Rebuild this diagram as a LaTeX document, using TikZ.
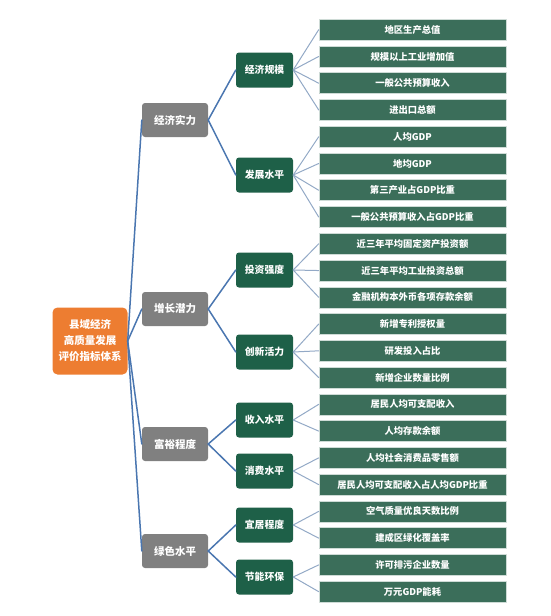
\documentclass[tikz,border=0pt]{standalone}
\usepackage{fontspec}
\setmainfont{Noto Sans CJK SC}
\definecolor{rootorange}{HTML}{ED7D31}
\definecolor{catgray}{HTML}{808080}
\definecolor{subgreen}{HTML}{1E6048}
\definecolor{leafgreen}{HTML}{3B6E5A}
\definecolor{trunkblue}{HTML}{4A76B0}
\definecolor{twigblue}{HTML}{93A9C6}
\begin{document}
\begin{tikzpicture}[x=1pt,y=-1pt,line join=round,line cap=round,
  rootbox/.style={fill=rootorange,text=white,rounded corners=5pt,minimum width=75pt,minimum height=67pt,align=center,font=\fontsize{10.5}{16}\selectfont\bfseries},
  catbox/.style={fill=catgray,text=white,rounded corners=3pt,minimum width=66pt,minimum height=34pt,font=\fontsize{10.5}{12}\selectfont\bfseries},
  subbox/.style={fill=subgreen,text=white,rounded corners=3pt,minimum width=57pt,minimum height=35pt,font=\fontsize{9.8}{12}\selectfont\bfseries},
  leafbox/.style={fill=leafgreen,draw=white!75!leafgreen,line width=0.6pt,text=white,minimum width=187pt,minimum height=21pt,inner sep=1pt,font=\fontsize{9.3}{11}\selectfont\bfseries},
  trunk/.style={draw=trunkblue,line width=1.5pt},
  twig/.style={draw=twigblue,line width=1pt}]
\useasboundingbox (0,0) rectangle (551,616);
\node[rootbox] (R) at (90,341) {县域经济\\高质量发展\\评价指标体系};
% first level
\foreach \y/\t/\n in {120/经济实力/A,309/增长潜力/B,444/富裕程度/C,551/绿色水平/D}
\node[catbox] (\n) at (175,\y) {\t};
% second level
\foreach \y/\t/\n in {70/经济规模/A1,175/发展水平/A2,270/投资强度/B1,352/创新活力/B2,420/收入水平/C1,471/消费水平/C2,525/宜居程度/D1,577/节能环保/D2}
\node[subbox] (\n) at (264.5,\y) {\t};
% indicators
\foreach \i/\t in {1/地区生产总值,2/规模以上工业增加值,3/一般公共预算收入,4/进出口总额,5/人均GDP,6/地均GDP,7/第三产业占GDP比重,8/一般公共预算收入占GDP比重,9/近三年平均固定资产投资额,10/近三年平均工业投资总额,11/金融机构本外币各项存款余额,12/新增专利授权量,13/研发投入占比,14/新增企业数量比例,15/居民人均可支配收入,16/人均存款余额,17/人均社会消费品零售额,18/居民人均可支配收入占人均GDP比重,19/空气质量优良天数比例,20/建成区绿化覆盖率,21/许可排污企业数量,22/万元GDP能耗}
\node[leafbox] (L\i) at (412.5,{29.7+(\i-1)*26.76}) {\t};
\foreach \n in {A,B,C,D}
\draw[trunk] (R.east) -- (\n.west);
\foreach \p/\c in {A/A1,A/A2,B/B1,B/B2,C/C1,C/C2,D/D1,D/D2}
\draw[trunk] (\p.east) -- (\c.west);
\foreach \p/\c in {A1/1,A1/2,A1/3,A1/4,A2/5,A2/6,A2/7,A2/8,B1/9,B1/10,B1/11,B2/12,B2/13,B2/14,C1/15,C1/16,C2/17,C2/18,D1/19,D1/20,D2/21,D2/22}
\draw[twig] (\p.east) -- (L\c.west);
\end{tikzpicture}
\end{document}
